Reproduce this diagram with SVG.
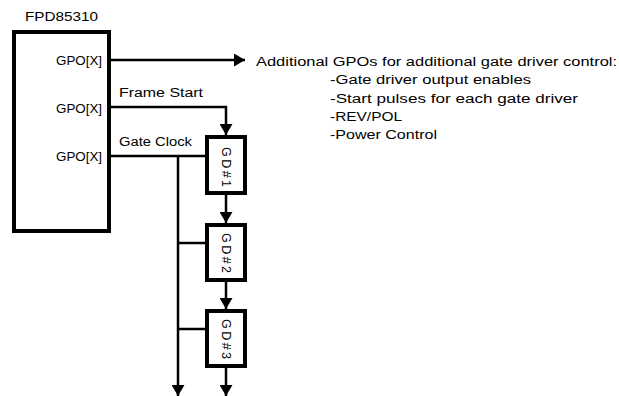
<svg xmlns="http://www.w3.org/2000/svg" width="619" height="396" viewBox="0 0 619 396">
<style>
text{font-family:"Liberation Sans",Arial,sans-serif;fill:#000}
.t{font-size:12.5px}
.g{font-size:13.5px;text-anchor:end}
.box{fill:#fff;stroke:#000;stroke-width:4}
.ln{fill:none;stroke:#000;stroke-width:2.5}
.gd{font-size:12.5px;text-anchor:middle;dominant-baseline:central}
</style>
<defs>
<marker id="arr" markerUnits="userSpaceOnUse" markerWidth="12" markerHeight="13" refX="11" refY="6.5" orient="auto">
<path d="M0,0 L11,6.5 L0,13 z" fill="#000"/>
</marker>
</defs>
<g id="connectors">
<path class="ln" d="M111,60 H245" marker-end="url(#arr)"/>
<path class="ln" d="M111,107 H226 V135" marker-end="url(#arr)"/>
<path class="ln" d="M111,156 H205"/>
<path class="ln" d="M178,156 V396" marker-end="url(#arr)"/>
<path class="ln" d="M178,243 H205"/>
<path class="ln" d="M178,329 H205"/>
<path class="ln" d="M226,195 V223" marker-end="url(#arr)"/>
<path class="ln" d="M226,282 V309" marker-end="url(#arr)"/>
<path class="ln" d="M226,368 V396" marker-end="url(#arr)"/>
<text class="t" x="119" y="97" textLength="84" lengthAdjust="spacingAndGlyphs">Frame Start</text>
<text class="t" x="119" y="146" textLength="73" lengthAdjust="spacingAndGlyphs">Gate Clock</text>
</g>
<g id="fpd85310">
<text class="t" x="25" y="21" textLength="73" lengthAdjust="spacingAndGlyphs">FPD85310</text>
<rect class="box" x="14" y="32" width="95" height="199"/>
<text class="g" x="102" y="65" textLength="46" lengthAdjust="spacingAndGlyphs">GPO[X]</text>
<text class="g" x="102" y="113" textLength="46" lengthAdjust="spacingAndGlyphs">GPO[X]</text>
<text class="g" x="102" y="161" textLength="46" lengthAdjust="spacingAndGlyphs">GPO[X]</text>
</g>
<g id="gd1">
<rect class="box" x="207" y="137" width="38" height="56"/>
<text class="gd" transform="translate(226,167) rotate(90)" textLength="40" lengthAdjust="spacing">GD#1</text>
</g>
<g id="gd2">
<rect class="box" x="207" y="225" width="38" height="55"/>
<text class="gd" transform="translate(226,253) rotate(90)" textLength="40" lengthAdjust="spacing">GD#2</text>
</g>
<g id="gd3">
<rect class="box" x="207" y="311" width="38" height="55"/>
<text class="gd" transform="translate(226,339) rotate(90)" textLength="40" lengthAdjust="spacing">GD#3</text>
</g>
<g id="gpo-notes">
<text class="t" x="256" y="66" textLength="361" lengthAdjust="spacingAndGlyphs">Additional GPOs for additional gate driver control:</text>
<text class="t" x="330" y="84" textLength="201" lengthAdjust="spacingAndGlyphs">-Gate driver output enables</text>
<text class="t" x="330" y="102.5" textLength="248" lengthAdjust="spacingAndGlyphs">-Start pulses for each gate driver</text>
<text class="t" x="330" y="121" textLength="72" lengthAdjust="spacingAndGlyphs">-REV/POL</text>
<text class="t" x="330" y="139" textLength="107" lengthAdjust="spacingAndGlyphs">-Power Control</text>
</g>
</svg>
